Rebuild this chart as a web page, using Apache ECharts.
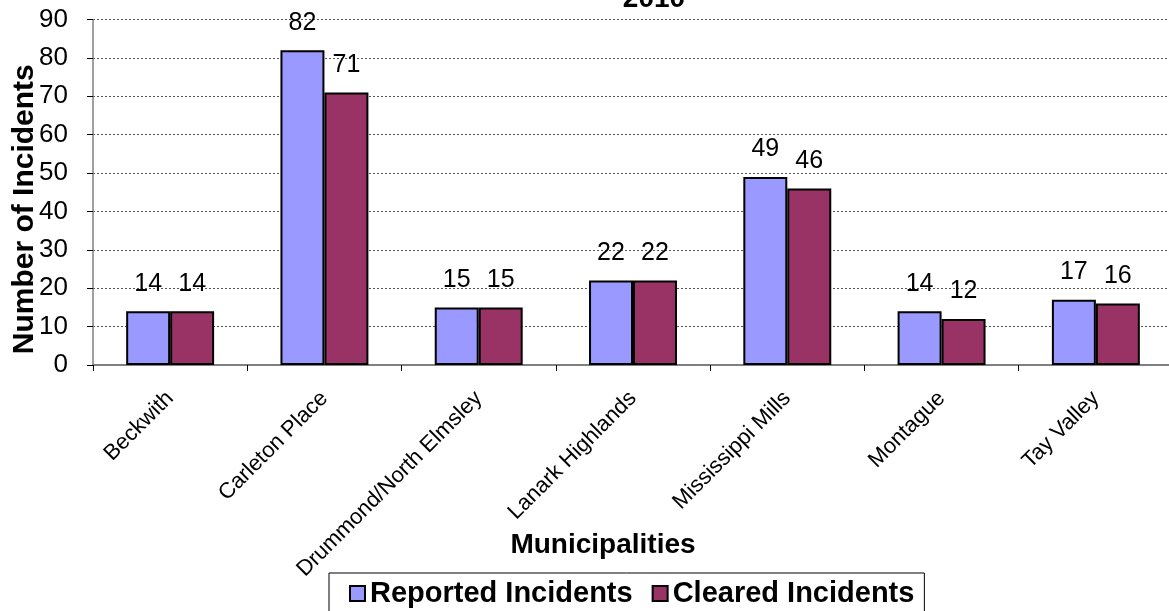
<!DOCTYPE html>
<html>
<head>
<meta charset="utf-8">
<script src="https://cdn.jsdelivr.net/npm/echarts@6/dist/echarts.min.js"></script>
<style>
html,body{margin:0;padding:0;background:#fff;overflow:hidden;}
#chart{width:1169px;height:611px;}
</style>
</head>
<body>
<div id="chart"></div>
<script>
const categories = ['Beckwith', 'Carleton Place', 'Drummond/North Elmsley', 'Lanark Highlands', 'Mississippi Mills', 'Montague', 'Tay Valley'];
const reported = [14, 82, 15, 22, 49, 14, 17];
const cleared = [14, 71, 15, 22, 46, 12, 16];
const seriesNames = ['Reported Incidents', 'Cleared Incidents'];
const yTicks = { min: 0, max: 90, interval: 10 };

const FONT = '"Liberation Sans", Arial, sans-serif';
const chart = echarts.init(document.getElementById('chart'));
const labelStyle = { show: true, position: 'top', distance: 15, color: '#000', fontSize: 25, fontFamily: FONT };
chart.setOption({
  animation: false,
  title: [
    {
      text: '2010', left: 649, top: -20, textAlign: 'center',
      textStyle: { fontSize: 28, fontWeight: 'bold', color: '#000', fontFamily: FONT }
    },
    {
      text: 'Municipalities', left: 603, top: 531, textAlign: 'center', padding: 0,
      textStyle: { fontSize: 28, fontWeight: 'bold', color: '#000', fontFamily: FONT }
    }
  ],
  grid: { left: 93, right: -4, top: 19.5, bottom: 246, containLabel: false, outerBoundsMode: 'none' },
  legend: {
    data: seriesNames, left: 329, top: 573, orient: 'horizontal',
    itemWidth: 15, itemHeight: 15, itemGap: 19,
    borderColor: '#000', borderWidth: 1, padding: [6, 10, 6, 20],
    textStyle: { fontSize: 29, fontWeight: 'bold', color: '#000', fontFamily: FONT },
    icon: 'rect'
  },
  xAxis: {
    type: 'category', data: categories,
    axisLine: { lineStyle: { color: '#808080', width: 2 } },
    axisTick: { show: true, alignWithLabel: false, length: 6, lineStyle: { color: '#000' } },
    axisLabel: { rotate: 45, margin: 30, fontSize: 22, color: '#000', fontFamily: FONT, interval: 0 }
  },
  yAxis: {
    type: 'value', min: yTicks.min, max: yTicks.max, interval: yTicks.interval,
    name: 'Number of Incidents', nameLocation: 'middle', nameGap: 53, nameMoveOverlap: false,
    nameTextStyle: { fontSize: 30, fontWeight: 'bold', color: '#000', fontFamily: FONT, padding: [0, 34, 0, 0] },
    axisLine: { show: true, lineStyle: { color: '#808080', width: 1.5 } },
    axisTick: { show: true, length: 6, lineStyle: { color: '#000' } },
    axisLabel: { margin: 25, fontSize: 26, color: '#000', fontFamily: FONT },
    splitLine: { show: true, lineStyle: { color: '#555', width: 1, type: [2, 2] } }
  },
  series: [
    {
      name: seriesNames[0], type: 'bar', data: reported, barGap: '0%', barCategoryGap: '43%',
      itemStyle: { color: '#9999FF', borderColor: '#000', borderWidth: 2 },
      label: labelStyle
    },
    {
      name: seriesNames[1], type: 'bar', data: cleared, barGap: '0%', barCategoryGap: '43%',
      itemStyle: { color: '#993366', borderColor: '#000', borderWidth: 2 },
      label: labelStyle
    }
  ]
});
</script>
</body>
</html>
